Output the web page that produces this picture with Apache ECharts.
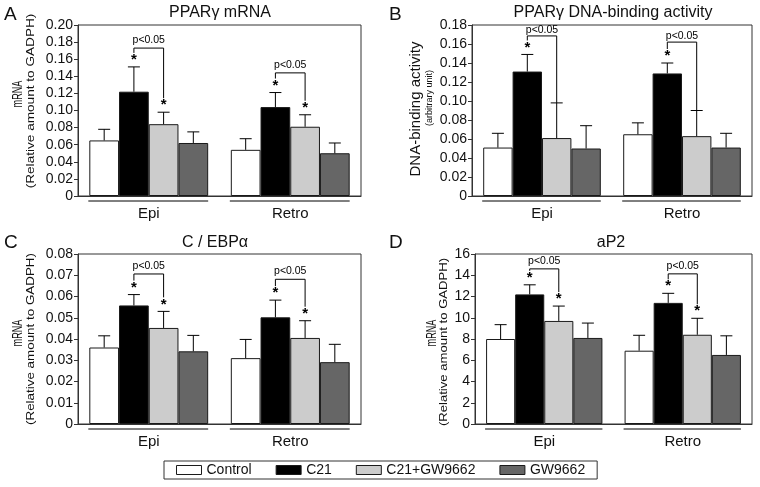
<!DOCTYPE html>
<html>
<head>
<meta charset="utf-8">
<script src="https://cdn.jsdelivr.net/npm/echarts@6/dist/echarts.min.js"></script>
<style>html,body{margin:0;padding:0;background:#fff}#chart{width:760px;height:487px}</style>
</head>
<body>
<div id="chart"></div>
<script>
// ---------- data ----------
const categories = ['Epi', 'Retro'];
const groups = ['Control', 'C21', 'C21+GW9662', 'GW9662'];

// rows follow groups, columns follow categories
// Panel A: PPARγ mRNA
const pparMrnaMean = [[0.065, 0.054], [0.122, 0.104], [0.084, 0.081], [0.062, 0.050]];
const pparMrnaErr = [[0.013, 0.013], [0.029, 0.017], [0.014, 0.014], [0.013, 0.012]];
const pparMrnaStar = [[0, 0], [1, 1], [1, 1], [0, 0]];
const pparMrnaBracket = [0.173, 0.144];
const pparMrnaAxis = [0, 0.20, 0.02];

// Panel B: PPARγ DNA-binding activity
const pparBindMean = [[0.051, 0.065], [0.131, 0.129], [0.061, 0.063], [0.050, 0.051]];
const pparBindErr = [[0.015, 0.012], [0.018, 0.011], [0.037, 0.027], [0.024, 0.015]];
const pparBindStar = [[0, 0], [1, 1], [0, 0], [0, 0]];
const pparBindBracket = [0.1685, 0.162];
const pparBindAxis = [0, 0.18, 0.02];

// Panel C: C/EBPα mRNA
const cebpMean = [[0.036, 0.031], [0.0558, 0.0502], [0.0452, 0.0405], [0.0342, 0.0291]];
const cebpErr = [[0.0055, 0.0088], [0.0051, 0.0081], [0.0078, 0.0081], [0.0075, 0.0084]];
const cebpStar = [[0, 0], [1, 1], [1, 1], [0, 0]];
const cebpBracket = [0.0706, 0.0681];
const cebpAxis = [0, 0.08, 0.01];

// Panel D: aP2 mRNA
const ap2Mean = [[8.0, 6.9], [12.2, 11.4], [9.7, 8.4], [8.1, 6.5]];
const ap2Err = [[1.35, 1.45], [0.9, 0.9], [1.4, 1.55], [1.4, 1.8]];
const ap2Star = [[0, 0], [1, 1], [1, 1], [0, 0]];
const ap2Bracket = [14.6, 14.13];
const ap2Axis = [0, 16, 2];

const sigLabel = 'p<0.05';

// ---------- style ----------
const FONT = "'Liberation Sans', Arial, Helvetica, sans-serif";
const colors = ['#ffffff', '#000000', '#cccccc', '#666666'];
const GAP = 0.16;
const INK = '#111';

const panels = [
  { letter: 'A', title: 'PPARγ mRNA', mean: pparMrnaMean, err: pparMrnaErr, star: pparMrnaStar, bracket: pparMrnaBracket, axis: pparMrnaAxis,
    grid: { left: 78, top: 25, width: 283, height: 171 }, dec: 2, lift: 8,
    ynames: [
      { text: 'mRNA', x: 18, y: 94, size: 14.5, sx: 0.63 },
      { text: '(Relative amount to GADPH)', x: 31, y: 101, size: 10, sx: 1.36 }
    ],
    letterPos: [4, 5], titlePos: [220, 13] },
  { letter: 'B', title: 'PPARγ DNA-binding activity', mean: pparBindMean, err: pparBindErr, star: pparBindStar, bracket: pparBindBracket, axis: pparBindAxis,
    grid: { left: 472, top: 25, width: 280, height: 171 }, dec: 2, lift: 5.5,
    ynames: [
      { text: 'DNA-binding activity', x: 416, y: 109, size: 15, sx: 1 },
      { text: '(arbitrary unit)', x: 429, y: 98, size: 9.5, sx: 0.95 }
    ],
    letterPos: [389, 5], titlePos: [613, 13] },
  { letter: 'C', title: 'C / EBPα', mean: cebpMean, err: cebpErr, star: cebpStar, bracket: cebpBracket, axis: cebpAxis,
    grid: { left: 78, top: 254, width: 283, height: 170 }, dec: 2, lift: 8,
    ynames: [
      { text: 'mRNA', x: 18, y: 333, size: 14.5, sx: 0.63 },
      { text: '(Relative amount to GADPH)', x: 31, y: 339, size: 10, sx: 1.34 }
    ],
    letterPos: [4, 233], titlePos: [215, 243] },
  { letter: 'D', title: 'aP2', mean: ap2Mean, err: ap2Err, star: ap2Star, bracket: ap2Bracket, axis: ap2Axis,
    grid: { left: 475, top: 254, width: 277, height: 170 }, dec: 0, lift: 8,
    ynames: [
      { text: 'mRNA', x: 432, y: 333, size: 14.5, sx: 0.63 },
      { text: '(Relative amount to GADPH)', x: 444, y: 342, size: 10, sx: 1.31 }
    ],
    letterPos: [389, 233], titlePos: [611, 243] }
];

function barCenter(api, cat, s) {
  const band = api.size([1, 0])[0];
  const c = api.coord([cat, 0])[0];
  const w = band * (1 - GAP) / 4;
  return c + (s - 1.5) * w;
}

const grids = [], xAxes = [], yAxes = [], series = [], graphics = [];

panels.forEach((p, pi) => {
  grids.push(Object.assign({ show: true, borderColor: '#333', borderWidth: 1, backgroundColor: 'transparent' }, p.grid));
  xAxes.push({
    type: 'category', gridIndex: pi, data: categories,
    axisTick: { show: false },
    axisLine: { show: true, lineStyle: { color: '#333', width: 1 } },
    axisLabel: { fontSize: 15, color: INK, fontFamily: FONT, margin: 10 }
  });
  yAxes.push({
    type: 'value', gridIndex: pi, min: p.axis[0], max: p.axis[1], interval: p.axis[2],
    splitLine: { show: false },
    axisLine: { show: true, lineStyle: { color: '#333', width: 1 } },
    axisTick: { show: true, length: 4, lineStyle: { color: '#333' } },
    axisLabel: { fontSize: 14, color: INK, fontFamily: FONT, margin: 5,
      formatter: v => (Math.abs(v) < 1e-9 ? '0' : v.toFixed(p.dec)) }
  });

  groups.forEach((g, s) => {
    series.push({
      type: 'bar', name: g, xAxisIndex: pi, yAxisIndex: pi,
      data: p.mean[s], barGap: '0%', barCategoryGap: (GAP * 100) + '%',
      itemStyle: { color: colors[s], borderColor: '#1a1a1a', borderWidth: 1 },
      emphasis: { disabled: true }, animation: false
    });
  });

  // error bars + stars
  groups.forEach((g, s) => {
    series.push({
      type: 'custom', name: g + ' err', xAxisIndex: pi, yAxisIndex: pi, clip: false, z: 5,
      data: categories.map((c, i) => [i, p.mean[s][i], p.err[s][i], p.star[s][i]]),
      renderItem: (params, api) => {
        const cat = api.value(0), m = api.value(1), e = api.value(2), st = api.value(3);
        const x = barCenter(api, cat, s);
        const y0 = api.coord([cat, m])[1];
        const y1 = api.coord([cat, m + e])[1];
        const ls = { stroke: '#000', lineWidth: 1 };
        const ch = [
          { type: 'line', shape: { x1: x, y1: y0, x2: x, y2: y1 }, style: ls },
          { type: 'line', shape: { x1: x - 6, y1: y1, x2: x + 6, y2: y1 }, style: ls }
        ];
        if (st) ch.push({ type: 'text', style: { text: '*', x: x, y: y1 - 7, textAlign: 'center', textVerticalAlign: 'middle',
          font: 'bold 15px ' + FONT, fill: '#000' } });
        return { type: 'group', children: ch };
      },
      animation: false, silent: true
    });
  });

  // significance brackets
  series.push({
    type: 'custom', name: 'bracket', xAxisIndex: pi, yAxisIndex: pi, clip: false, z: 6,
    data: categories.map((c, i) => [i, p.bracket[i]]),
    renderItem: (params, api) => {
      const cat = api.value(0), lvl = api.value(1);
      const x1 = barCenter(api, cat, 1), x2 = barCenter(api, cat, 2);
      const yh = api.coord([cat, lvl])[1];
      const t1 = api.coord([cat, p.mean[1][cat] + p.err[1][cat]])[1] - (p.star[1][cat] ? 14 : 0);
      const t2 = api.coord([cat, p.mean[2][cat] + p.err[2][cat]])[1] - (p.star[2][cat] ? 14 : 0);
      return { type: 'group', children: [
        { type: 'polyline', shape: { points: [[x1, t1], [x1, yh], [x2, yh], [x2, t2]] }, style: { stroke: '#000', lineWidth: 1, fill: null } },
        { type: 'text', style: { text: sigLabel, x: (x1 + x2) / 2, y: yh - p.lift, textAlign: 'center', textVerticalAlign: 'middle',
          font: '10.5px ' + FONT, fill: '#000' } }
      ] };
    },
    animation: false, silent: true
  });

  // group underline
  series.push({
    type: 'custom', name: 'underline', xAxisIndex: pi, yAxisIndex: pi, clip: false, z: 6,
    data: categories.map((c, i) => [i, 0]),
    renderItem: (params, api) => {
      const cat = api.value(0);
      const band = api.size([1, 0])[0];
      const w = band * (1 - GAP) / 4;
      const xa = barCenter(api, cat, 0) - w / 2 - 1, xb = barCenter(api, cat, 3) + w / 2;
      const y = api.coord([cat, 0])[1] + 5;
      return { type: 'line', shape: { x1: xa, y1: y, x2: xb, y2: y }, style: { stroke: '#000', lineWidth: 1 } };
    },
    animation: false, silent: true
  });

  graphics.push({ type: 'text', left: p.letterPos[0], top: p.letterPos[1], style: { text: p.letter, font: '19px ' + FONT, fill: INK } });
  graphics.push({ type: 'text', x: p.titlePos[0], y: p.titlePos[1], style: { text: p.title, font: '16px ' + FONT, fill: INK, textAlign: 'center', textVerticalAlign: 'middle' } });
  p.ynames.forEach(n => {
    graphics.push({ type: 'text', x: n.x, y: n.y, rotation: Math.PI / 2, scaleX: n.sx, scaleY: 1,
      style: { text: n.text, font: n.size + 'px ' + FONT, fill: INK, textAlign: 'center', textVerticalAlign: 'middle' } });
  });
});

const chart = echarts.init(document.getElementById('chart'), null, { renderer: 'canvas' });
chart.setOption({
  backgroundColor: '#fff',
  animation: false,
  textStyle: { fontFamily: FONT },
  grid: grids, xAxis: xAxes, yAxis: yAxes, series: series, graphic: graphics,
  legend: {
    data: groups, left: 164, top: 461, orient: 'horizontal',
    icon: 'rect', itemWidth: 25, itemHeight: 9, itemGap: 24,
    borderColor: '#333', borderWidth: 1, padding: [2, 12, 2, 12], borderRadius: 0,
    itemStyle: { borderColor: '#1a1a1a', borderWidth: 1 },
    textStyle: { fontSize: 14, color: INK, fontFamily: FONT },
    selectedMode: false
  }
});
</script>
</body>
</html>
